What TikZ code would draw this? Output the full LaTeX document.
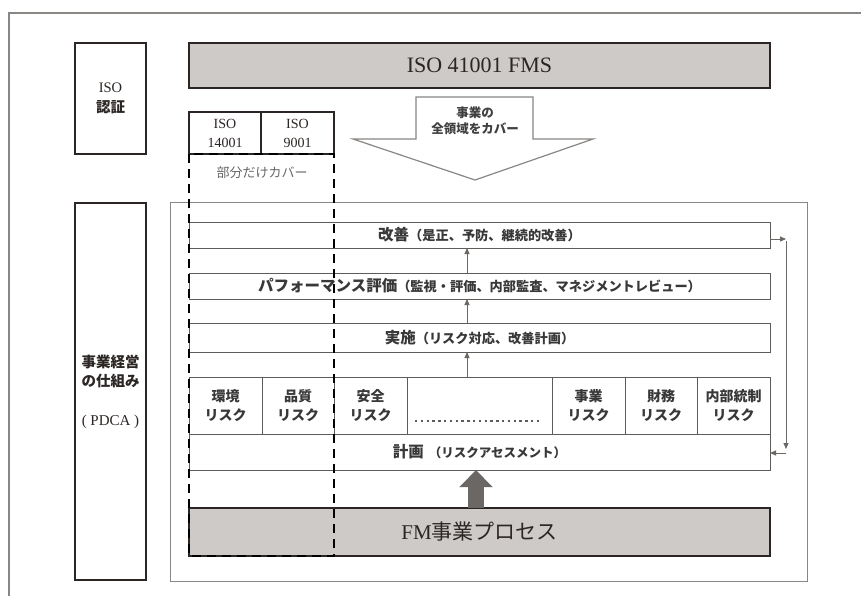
\documentclass[tikz,border=0pt]{standalone}
\usepackage{fontspec}
\setmainfont{Liberation Serif}
\newfontfamily\jp{Noto Sans CJK JP}
\usetikzlibrary{arrows.meta}
\definecolor{ink}{HTML}{2B2624}
\definecolor{boxgray}{HTML}{CDCAC8}
\definecolor{linegray}{HTML}{5F5B59}
\definecolor{framegray}{HTML}{8A8684}
\definecolor{arrowdark}{HTML}{6B6764}
\definecolor{txt}{HTML}{383838}
\begin{document}
\begin{tikzpicture}[x=1pt,y=-1pt,
  isobox/.style={draw=ink,line width=1.4pt,inner sep=0pt,outer sep=0pt,align=center,text=ink},
  graybox/.style={isobox,fill=boxgray},
  rowbox/.style={draw=linegray,line width=0.9pt,fill=white,inner sep=0pt,outer sep=0pt,align=center,text=txt,
    font={\jp\bfseries\fontsize{15.5}{18}\selectfont}},
  riskbox/.style={rowbox,minimum height=57pt,font={\jp\bfseries\fontsize{14}{19}\selectfont}},
  smallarr/.style={draw=arrowdark,line width=0.9pt,-{Triangle[length=6pt,width=5pt]}},
  bigarr/.style={draw=arrowdark,line width=16pt,-{Triangle[length=17pt,width=32pt]}},
  dashbox/.style={draw=black,line width=2.5pt,dash pattern=on 9pt off 6pt},
  thinframe/.style={draw=framegray,line width=0.7pt},
  outerframe/.style={draw=framegray,line width=1.2pt},
  hollow/.style={draw=framegray,line width=1.2pt,fill=white}
]
\useasboundingbox (0,0) rectangle (861,596);
\fill[white] (0,0) rectangle (861,596);
% outer frame (clipped by page)
\draw[outerframe] (9,596) -- (9,13) -- (861,13);

% ISO certification label box
\node[isobox,minimum width=71pt,minimum height=111pt,font={\fontsize{14.5}{20}\selectfont}]
  (isocert) at (110.5,98.5) {ISO\\{\jp\bfseries 認証}};

% ISO 41001 FMS
\node[graybox,minimum width=581pt,minimum height=45pt,font={\fontsize{22}{26}\selectfont}]
  (fms) at (479.5,65.5) {ISO 41001 FMS};

% ISO 14001 / 9001
\node[isobox,minimum width=72pt,minimum height=42pt,font={\fontsize{14}{19}\selectfont}]
  (iso14) at (225,133) {ISO\\14001};
\node[isobox,minimum width=73pt,minimum height=42pt,font={\fontsize{14}{19}\selectfont}]
  (iso9) at (297.5,133) {ISO\\9001};
\node[text=black!60,font={\jp\fontsize{13}{15}\selectfont}] (partial) at (262,173) {部分だけカバー};

% hollow arrow
\draw[hollow] (416,97) -- (533,97) -- (533,139) -- (593,139) -- (475,180) -- (353,139) -- (416,139) -- cycle;
\node[align=center,text=black!75,font={\jp\bfseries\fontsize{12.5}{16}\selectfont}] (cover) at (475,121) {事業の\\全領域をカバー};

% management system box
\node[isobox,minimum width=71pt,minimum height=377pt,font={\fontsize{14.5}{19}\selectfont}]
  (mgmt) at (110.5,391.5) {{\jp\bfseries 事業経営}\\{\jp\bfseries の仕組み}\\[20pt]{\fontsize{15}{19}\selectfont( PDCA )}};

% thin frame
\draw[thinframe] (170,202) rectangle (807,581);

% rows
\node[rowbox,minimum width=581pt,minimum height=26pt] (kaizen) at (479.5,235)
  {改善{\fontsize{13.2}{15}\selectfont（是正、予防、継続的改善）}};
\node[rowbox,minimum width=581pt,minimum height=26pt] (perf) at (479.5,286)
  {パフォーマンス評価{\fontsize{13.2}{15}\selectfont（監視・評価、内部監査、マネジメントレビュー）}};
\node[rowbox,minimum width=581pt,minimum height=29pt] (jisshi) at (479.5,337.5)
  {実施{\fontsize{13.2}{15}\selectfont（リスク対応、改善計画）}};

% risk cells
\node[riskbox,minimum width=73pt] (r1) at (225.5,405.5) {環境\\リスク};
\node[riskbox,minimum width=72pt] (r2) at (298,405.5) {品質\\リスク};
\node[riskbox,minimum width=73pt] (r3) at (370.5,405.5) {安全\\リスク};
\node[riskbox,minimum width=145pt] (rdots) at (479.5,405.5) {};
\node[riskbox,minimum width=73pt] (r4) at (588.5,405.5) {事業\\リスク};
\node[riskbox,minimum width=72pt] (r5) at (661,405.5) {財務\\リスク};
\node[riskbox,minimum width=73pt] (r6) at (733.5,405.5) {内部統制\\リスク};
\draw[draw=linegray,line width=2.2pt,dash pattern=on 2.4pt off 3.4pt]
  ([xshift=8pt,yshift=-15.5pt]rdots.west) -- ([xshift=-11pt,yshift=-15.5pt]rdots.east);

% planning row
\node[rowbox,minimum width=581pt,minimum height=36pt] (keikaku) at (479.5,452)
  {計画\hspace{5pt}{\fontsize{12.5}{15}\selectfont（リスクアセスメント）}};

% FM business process
\node[graybox,minimum width=581pt,minimum height=48pt,font={\fontsize{21}{25}\selectfont}]
  (fm) at (479.5,532) {FM{\jp 事業プロセス}};

% big arrow
\coordinate (bx) at (476,0);
\draw[bigarr] (bx |- fm.north) -- (bx |- keikaku.south);

% small arrows between rows
\coordinate (ax) at (467,0);
\draw[smallarr] (ax |- rdots.north) -- (ax |- jisshi.south);
\draw[smallarr] (ax |- jisshi.north) -- (ax |- perf.south);
\draw[smallarr] (ax |- perf.north) -- (ax |- kaizen.south);

% feedback loop
\coordinate (fbx) at (786,0);
\coordinate (fbtop) at ([yshift=-4pt]kaizen.east);
\draw[smallarr] (fbtop) -- (fbx |- fbtop);
\draw[smallarr] ([yshift=-2pt]fbx |- fbtop) -- ([yshift=3pt]fbx |- keikaku.east);
\draw[smallarr] ([yshift=-1pt]fbx |- keikaku.east) -- ([yshift=-1pt]keikaku.east);

% dashed partial-coverage box
\draw[dashbox] (iso14.south west) rectangle (fm.south west -| iso9.south east);
\end{tikzpicture}
\end{document}
